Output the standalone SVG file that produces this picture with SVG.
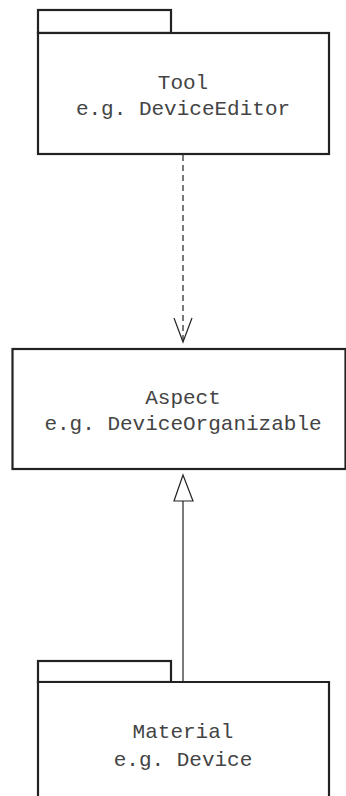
<svg xmlns="http://www.w3.org/2000/svg" width="346" height="796" viewBox="0 0 346 796">
<style>
.box{fill:#fff;stroke:#222;stroke-width:2.2}
.t{font-family:"Liberation Mono","Courier New",monospace;font-size:21px;fill:#444;text-anchor:middle}
.c{stroke:#222;stroke-width:1.2;fill:none}
</style>
<rect width="346" height="796" fill="#fff"/>
<g id="tool">
<rect class="box" x="38" y="10" width="133" height="23"/>
<rect class="box" x="38" y="33" width="291" height="121"/>
<text class="t" x="183" y="89">Tool</text>
<text class="t" x="183" y="115">e.g. DeviceEditor</text>
</g>
<g id="aspect">
<rect class="box" x="12.5" y="349" width="333" height="120"/>
<text class="t" x="183" y="404">Aspect</text>
<text class="t" x="183" y="430">e.g. DeviceOrganizable</text>
</g>
<g id="material">
<rect class="box" x="38" y="661" width="133" height="21"/>
<path class="box" d="M38,800 V682 H329 V800"/>
<text class="t" x="183" y="738">Material</text>
<text class="t" x="183" y="766">e.g. Device</text>
</g>
<g id="connectors">
<line class="c" x1="183" y1="155" x2="183" y2="341" stroke-dasharray="6 4"/>
<polyline class="c" points="174,318 183,342 192,318"/>
<line class="c" x1="183" y1="501" x2="183" y2="681"/>
<polygon class="c" points="183,475 174,501 193,501" fill="#fff"/>
</g>
</svg>
